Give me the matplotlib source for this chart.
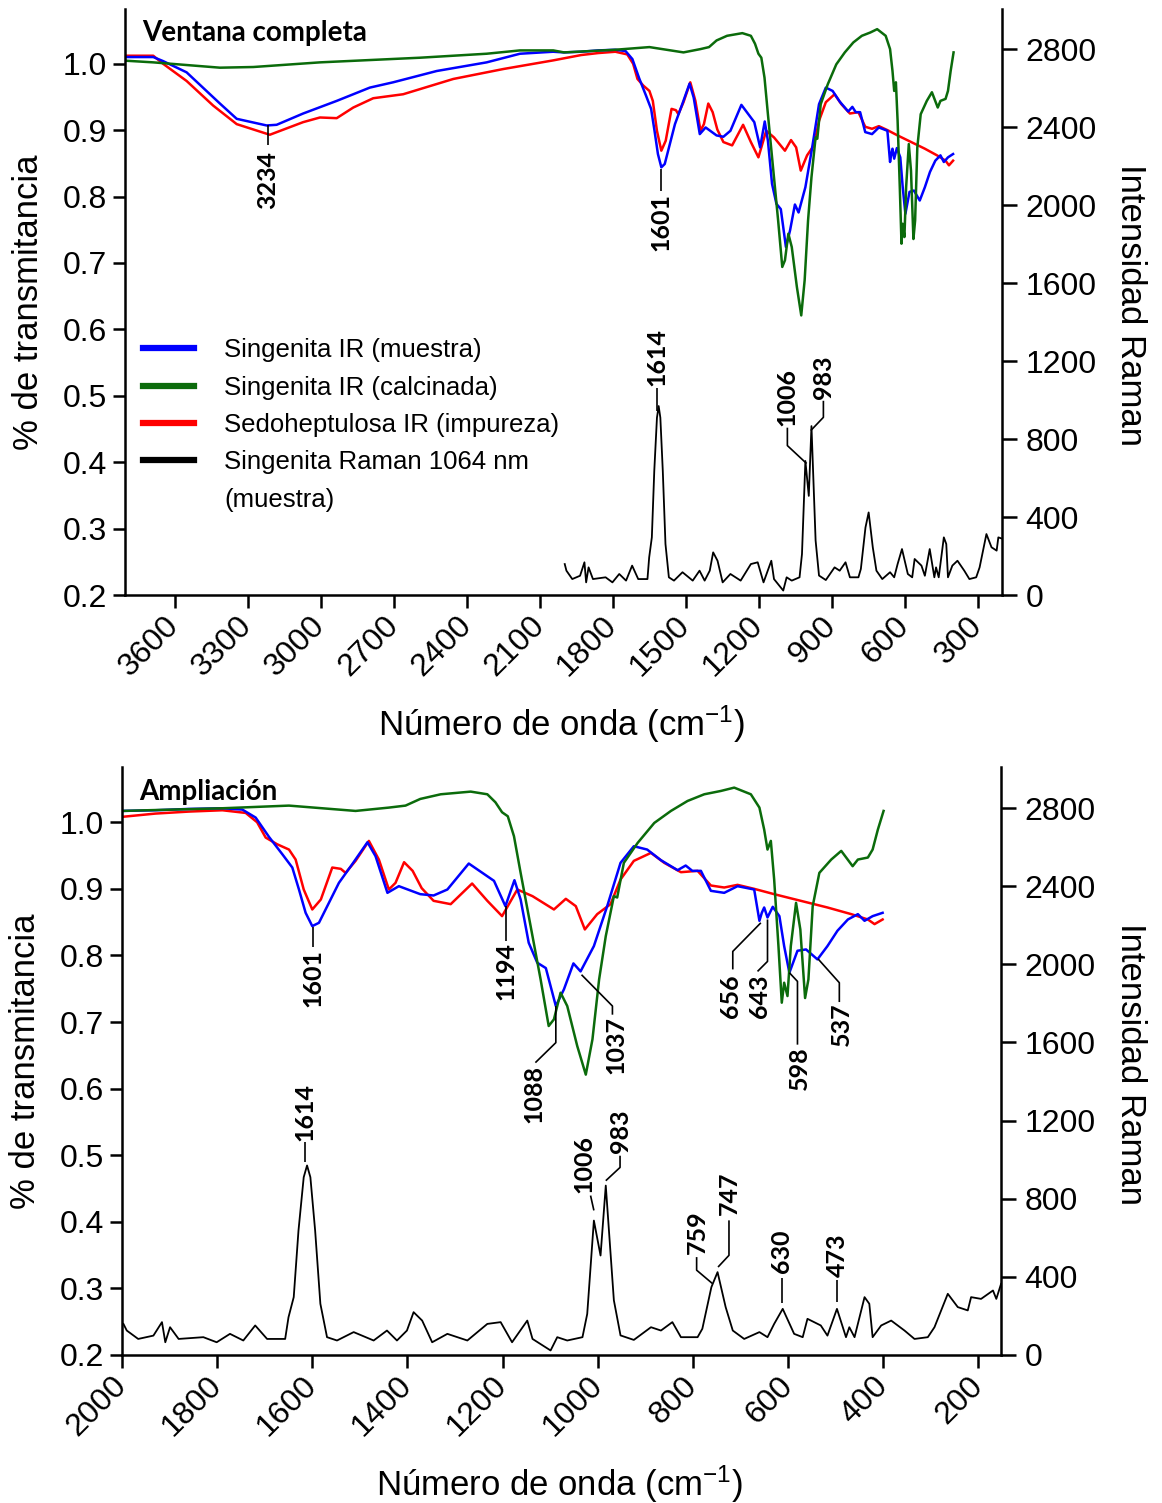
import matplotlib
matplotlib.use('Agg')
import matplotlib.pyplot as plt
from matplotlib.lines import Line2D

plt.rcParams['font.family'] = ['Liberation Sans', 'DejaVu Sans']
plt.rcParams['mathtext.default'] = 'regular'

# Singenita IR (muestra)
wn_azul = [3824, 3688, 3648, 3551, 3414, 3345, 3222, 3181, 3072, 2934, 2798, 2702, 2523, 2318,
           2181, 2045, 2000, 1930, 1860, 1789, 1747, 1719, 1691, 1663, 1642, 1628, 1614, 1600,
           1586, 1565, 1544, 1516, 1484, 1467, 1442, 1418, 1373, 1345, 1316, 1271, 1218, 1194,
           1175, 1162, 1145, 1127, 1109, 1088, 1071, 1051, 1036, 1008, 980, 952, 924, 896, 867,
           832, 815, 801, 783, 762, 734, 706, 671, 660, 655, 650, 643, 632, 618, 608, 597, 580,
           562, 538, 517, 496, 474, 453, 439, 422, 401]
t_azul = [1.010, 1.010, 1.004, 0.987, 0.940, 0.917, 0.907, 0.908, 0.925, 0.944, 0.964, 0.972,
          0.989, 1.002, 1.015, 1.018, 1.017, 1.018, 1.020, 1.021, 1.019, 1.007, 0.978, 0.952,
          0.932, 0.899, 0.864, 0.844, 0.849, 0.879, 0.909, 0.937, 0.970, 0.949, 0.894, 0.904,
          0.892, 0.890, 0.899, 0.938, 0.912, 0.874, 0.913, 0.884, 0.819, 0.789, 0.781, 0.724,
          0.749, 0.788, 0.776, 0.814, 0.874, 0.939, 0.964, 0.959, 0.943, 0.928, 0.935, 0.927,
          0.927, 0.897, 0.894, 0.904, 0.899, 0.852, 0.864, 0.872, 0.857, 0.873, 0.859, 0.814,
          0.774, 0.807, 0.809, 0.794, 0.814, 0.837, 0.854, 0.862, 0.852, 0.859, 0.864]

# Singenita IR (calcinada)
wn_verde = [3824, 3688, 3414, 3277, 3003, 2592, 2318, 2181, 2044, 2000, 1789, 1649, 1509, 1439,
            1404, 1373, 1330, 1267, 1232, 1215, 1201, 1189, 1176, 1162, 1141, 1120, 1103, 1092,
            1078, 1064, 1043, 1025, 1011, 997, 983, 966, 959, 945, 916, 881, 846, 811, 776, 741,
            713, 678, 660, 650, 643, 636, 629, 620, 613, 608, 601, 594, 583, 574, 564, 557, 548,
            534, 509, 488, 464, 453, 432, 422, 411, 399]
t_verde = [1.005, 1.002, 0.994, 0.995, 1.002, 1.009, 1.015, 1.020, 1.020, 1.017, 1.021, 1.025,
           1.017, 1.022, 1.025, 1.035, 1.042, 1.046, 1.042, 1.030, 1.015, 1.009, 0.979, 0.924,
           0.844, 0.764, 0.694, 0.704, 0.744, 0.724, 0.664, 0.621, 0.674, 0.764, 0.829, 0.889,
           0.887, 0.939, 0.969, 0.999, 1.017, 1.032, 1.042, 1.047, 1.052, 1.042, 1.022, 0.989,
           0.959, 0.972, 0.914, 0.814, 0.729, 0.759, 0.739, 0.814, 0.879, 0.839, 0.736, 0.764,
           0.874, 0.924, 0.944, 0.957, 0.934, 0.944, 0.947, 0.959, 0.989, 1.017]

# Sedoheptulosa IR (impureza)
wn_rojo = [3824, 3688, 3648, 3551, 3442, 3345, 3209, 3072, 3003, 2934, 2866, 2784, 2661, 2455,
           2249, 2044, 1930, 1860, 1789, 1740, 1716, 1698, 1674, 1649, 1635, 1618, 1600, 1582,
           1558, 1540, 1530, 1509, 1481, 1460, 1439, 1425, 1407, 1389, 1370, 1345, 1309, 1264,
           1232, 1201, 1169, 1137, 1092, 1067, 1046, 1027, 1001, 973, 952, 924, 888, 860, 825,
           790, 762, 734, 706, 671, 629, 573, 517, 467, 432, 418, 401]
t_rojo = [1.012, 1.012, 1.000, 0.974, 0.937, 0.909, 0.893, 0.912, 0.919, 0.918, 0.934, 0.948,
          0.954, 0.977, 0.992, 1.005, 1.013, 1.016, 1.018, 1.014, 1.000, 0.977, 0.967, 0.959,
          0.944, 0.899, 0.869, 0.884, 0.932, 0.930, 0.924, 0.942, 0.972, 0.944, 0.899, 0.909,
          0.940, 0.927, 0.901, 0.882, 0.877, 0.908, 0.882, 0.859, 0.899, 0.889, 0.869, 0.885,
          0.874, 0.839, 0.862, 0.877, 0.914, 0.942, 0.954, 0.939, 0.925, 0.927, 0.905, 0.902,
          0.906, 0.900, 0.892, 0.882, 0.872, 0.862, 0.854, 0.847, 0.854]

# Singenita Raman 1064 nm (muestra)
wn_raman = [1997, 1990, 1966, 1934, 1916, 1909, 1899, 1881, 1829, 1801, 1773, 1745, 1720, 1695,
            1657, 1650, 1639, 1629, 1618, 1611, 1604, 1594, 1583, 1569, 1548, 1513, 1471, 1443,
            1422, 1401, 1387, 1369, 1348, 1316, 1274, 1232, 1204, 1180, 1148, 1137, 1099, 1085,
            1064, 1032, 1022, 1008, 994, 983, 966, 952, 924, 888, 867, 843, 825, 790, 780, 761,
            748, 731, 716, 692, 660, 643, 629, 611, 587, 569, 559, 531, 517, 497, 478, 471, 460,
            439, 429, 422, 404, 383, 355, 334, 306, 292, 264, 243, 222, 215, 194, 169, 162, 152]
i_raman = [159, 125, 82, 99, 168, 65, 142, 82, 91, 65, 108, 74, 151, 82, 82, 193, 296, 637, 910,
           970, 910, 637, 262, 91, 74, 117, 74, 125, 74, 125, 219, 176, 65, 108, 74, 159, 168,
           65, 176, 82, 23, 91, 74, 91, 210, 688, 509, 867, 280, 100, 77, 142, 125, 168, 91, 91,
           134, 347, 424, 245, 125, 82, 117, 91, 159, 236, 108, 91, 185, 151, 99, 236, 91, 142,
           91, 296, 262, 91, 151, 176, 125, 82, 91, 142, 313, 245, 228, 296, 287, 330, 287, 364]

ticks_izq = [0.2, 0.3, 0.4, 0.5, 0.6, 0.7, 0.8, 0.9, 1.0]
ticks_der = [0, 400, 800, 1200, 1600, 2000, 2400, 2800]

FS = 23
AZUL, VERDE, ROJO = '#0000ff', '#0b6b0b', '#ff0000'


def etiqueta(ax, texto, xs, ys, xt, yt, va='top'):
    ax.plot(xs, ys, color='black', lw=1.2, solid_capstyle='butt', zorder=6)
    ax.text(xt, yt, texto, rotation=90, ha='center', va=va, fontsize=18,
            family=['Lato', 'DejaVu Sans'], weight='bold', zorder=7)


def panel(fig, rect, xlim, xticks, titulo):
    ax = fig.add_axes(rect)
    ax.plot(wn_rojo, t_rojo, color=ROJO, lw=1.8)
    ax.plot(wn_azul, t_azul, color=AZUL, lw=1.8)
    ax.plot(wn_verde, t_verde, color=VERDE, lw=1.8)
    ax.set_xlim(*xlim)
    ax.set_ylim(0.2, 1.083)
    ax.set_yticks(ticks_izq)
    ax.set_yticklabels(['%.1f' % v for v in ticks_izq])
    ax.set_xticks(xticks)
    for lab in ax.set_xticklabels([str(v) for v in xticks]):
        lab.set_rotation(45)
        lab.set_ha('right')
        lab.set_va('center')
        lab.set_rotation_mode('anchor')
    ax.spines['top'].set_visible(False)
    ax.spines['right'].set_visible(False)
    for s in ('left', 'bottom'):
        ax.spines[s].set_linewidth(1.8)
    ax.tick_params(axis='both', labelsize=FS, width=1.8, length=9, direction='out')
    ax.tick_params(axis='x', pad=10)
    ax.tick_params(axis='y', pad=4)
    ax.set_ylabel('% de transmitancia', fontsize=25)
    ax.yaxis.set_label_coords(-0.091, 0.5)
    ax.set_xlabel('Número de onda (cm$^{-1}$)', fontsize=25)
    ax.xaxis.set_label_coords(0.498, -0.185)
    ax.text(0.019, 0.944, titulo, transform=ax.transAxes, fontsize=20,
            family=['Lato', 'DejaVu Sans'], weight='bold', va='baseline', ha='left')

    ax2 = ax.twinx()
    ax2.plot(wn_raman, i_raman, color='black', lw=1.3)
    ax2.set_xlim(*xlim)
    ax2.set_ylim(0, 3010)
    ax2.set_yticks(ticks_der)
    ax2.spines['top'].set_visible(False)
    ax2.spines['left'].set_visible(False)
    ax2.spines['bottom'].set_visible(False)
    ax2.spines['right'].set_linewidth(1.8)
    ax2.tick_params(axis='y', labelsize=FS, width=1.8, length=11, direction='out', pad=6)
    ax2.set_ylabel('Intensidad Raman', fontsize=25, rotation=270, va='bottom')
    ax2.yaxis.set_label_coords(1.128, 0.494)
    return ax, ax2


fig = plt.figure(figsize=(11.62, 15.03), dpi=100)

# Panel superior: ventana completa
a1, b1 = panel(fig, [0.1076, 0.6041, 0.7547, 0.3902], (3804, 200),
               list(range(3600, 200, -300)), 'Ventana completa')
etiqueta(a1, '3234', [3217, 3217], [0.907, 0.877], 3217, 0.869)
etiqueta(a1, '1601', [1601, 1601], [0.842, 0.809], 1601, 0.806)
etiqueta(b1, '1614', [1617, 1617], [946, 1064], 1617, 1074, va='bottom')
etiqueta(b1, '1006', [1082, 1082, 1003], [859, 767, 675], 1082, 870, va='bottom')
etiqueta(b1, '983', [934, 934, 986], [997, 912, 844], 934, 1008, va='bottom')

h = [Line2D([], [], color=AZUL, lw=4.5), Line2D([], [], color=VERDE, lw=4.5),
     Line2D([], [], color=ROJO, lw=4.5), Line2D([], [], color='black', lw=4.5),
     Line2D([], [], color='none', lw=0)]
lbl = ['Singenita IR (muestra)', 'Singenita IR (calcinada)', 'Sedoheptulosa IR (impureza)',
       'Singenita Raman 1064 nm', '(muestra)']
b1.legend(h, lbl, loc='upper left', bbox_to_anchor=(0.0205, 0.438), frameon=False,
          fontsize=18.5, handlelength=2.0, handletextpad=1.15, labelspacing=0.52,
          borderpad=0, borderaxespad=0)

# Panel inferior: ampliación
a2, b2 = panel(fig, [0.1050, 0.0985, 0.7565, 0.3912], (2000, 152),
               list(range(2000, 100, -200)), 'Ampliación')
etiqueta(a2, '1601', [1599, 1599], [0.842, 0.812], 1599, 0.809)
etiqueta(a2, '1194', [1192, 1192], [0.874, 0.822], 1192, 0.820)
etiqueta(a2, '1088', [1088, 1088, 1131], [0.724, 0.669, 0.639], 1135, 0.636)
etiqueta(a2, '1037', [1034, 969, 969], [0.771, 0.724, 0.711], 962, 0.709)
etiqueta(a2, '656', [657, 716, 716], [0.849, 0.806, 0.779], 720, 0.771)
etiqueta(a2, '643', [643, 643, 664], [0.854, 0.791, 0.776], 660, 0.771)
etiqueta(a2, '598', [597, 580, 580], [0.774, 0.761, 0.666], 576, 0.664)
etiqueta(a2, '537', [537, 492, 492], [0.795, 0.759, 0.730], 488, 0.729)
etiqueta(b2, '1614', [1615, 1615], [986, 1088], 1615, 1097, va='bottom')
etiqueta(b2, '1006', [1008, 1015], [740, 816], 1029, 831, va='bottom')
etiqueta(b2, '983', [983, 953, 953], [892, 960, 1020], 952, 1035, va='bottom')
etiqueta(b2, '759', [759, 792, 792], [366, 434, 501], 790, 519, va='bottom')
etiqueta(b2, '747', [747, 724, 724], [450, 510, 689], 724, 714, va='bottom')
etiqueta(b2, '630', [613, 613], [265, 393], 613, 417, va='bottom')
etiqueta(b2, '473', [497, 497], [272, 383], 497, 398, va='bottom')

fig.savefig('out.png', dpi=100)
